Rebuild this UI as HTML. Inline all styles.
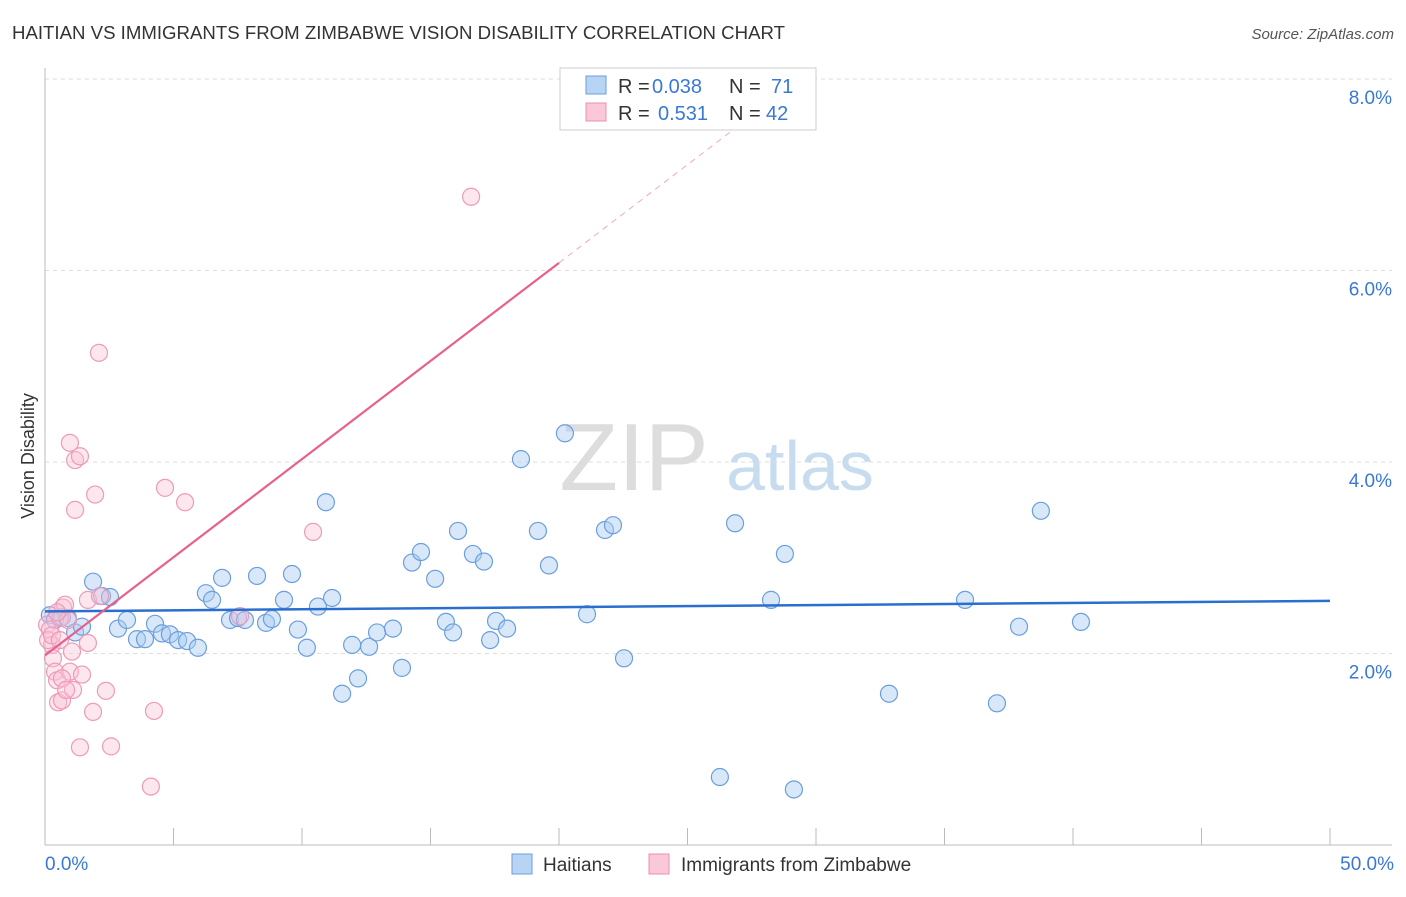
<!DOCTYPE html>
<html><head><meta charset="utf-8"><style>
body{margin:0;background:#fff;font-family:"Liberation Sans",sans-serif;}
svg text{font-family:"Liberation Sans",sans-serif;}
</style></head><body>
<svg id="c" width="1406" height="892" xmlns="http://www.w3.org/2000/svg">
<text x="12" y="39" font-size="18" fill="#333" textLength="773" lengthAdjust="spacingAndGlyphs">HAITIAN VS IMMIGRANTS FROM ZIMBABWE VISION DISABILITY CORRELATION CHART</text>
<text x="1394" y="39" font-size="15" fill="#555" font-style="italic" text-anchor="end">Source: ZipAtlas.com</text>
<text x="634" y="490" font-size="96" fill="#ddd" font-family="Liberation Serif" text-anchor="middle">ZIP</text>
<text x="800" y="490" font-size="70" fill="#c8dcf0" text-anchor="middle">atlas</text>
<text x="34" y="456" font-size="18" fill="#333" text-anchor="middle" transform="rotate(-90 34 456)">Vision Disability</text>
<g id="grid"></g><g id="marks"></g>
<g>
<rect x="560" y="68" width="256" height="62" fill="#fff" stroke="#ccc"/>
<rect x="586" y="76" width="20" height="18" fill="#b8d4f4" stroke="#6a9fde"/>
<rect x="586" y="103" width="20" height="18" fill="#fac8d8" stroke="#e890b0"/>
<text x="618" y="93" font-size="20" fill="#333">R =</text>
<text x="652" y="93" font-size="20" fill="#3a78d6">0.038</text>
<text x="729" y="93" font-size="20" fill="#333">N =</text>
<text x="771" y="93" font-size="20" fill="#3a78d6">71</text>
<text x="618" y="120" font-size="20" fill="#333">R =</text>
<text x="658" y="120" font-size="20" fill="#3a78d6">0.531</text>
<text x="729" y="120" font-size="20" fill="#333">N =</text>
<text x="766" y="120" font-size="20" fill="#3a78d6">42</text>
</g>
<g>
<rect x="512" y="854" width="20" height="20" fill="#b8d4f4" stroke="#6a9fde"/>
<text x="543" y="871" font-size="19" fill="#333">Haitians</text>
<rect x="649" y="854" width="20" height="20" fill="#fac8d8" stroke="#e890b0"/>
<text x="681" y="871" font-size="19" fill="#333">Immigrants from Zimbabwe</text>
</g>
</svg>
<script>
const yTicks=[2,4,6,8];
const xTickLabels=["0.0%","50.0%"];
const blueX=[0.19,0.39,0.66,0.89,1.17,1.44,1.87,2.22,2.53,2.84,3.19,3.58,3.89,4.28,4.55,4.86,5.18,5.53,5.95,6.26,6.50,6.89,7.20,7.51,7.78,8.25,8.60,8.83,9.30,9.61,9.84,10.19,10.62,10.93,11.17,11.56,11.95,12.18,12.61,12.92,13.54,13.89,14.28,14.63,15.18,15.60,15.88,16.07,16.65,17.08,17.32,17.55,17.98,18.52,19.18,19.61,20.23,21.09,21.79,22.10,22.53,26.26,26.85,28.25,28.79,29.14,32.84,35.80,37.04,37.90,38.75,40.31];
const blueY=[2.40,2.35,2.38,2.37,2.22,2.28,2.75,2.60,2.59,2.26,2.35,2.15,2.15,2.31,2.21,2.20,2.14,2.13,2.06,2.63,2.56,2.79,2.35,2.37,2.35,2.81,2.32,2.36,2.56,2.83,2.25,2.06,2.49,3.58,2.58,1.58,2.09,1.74,2.07,2.22,2.26,1.85,2.95,3.06,2.78,2.33,2.22,3.28,3.04,2.96,2.14,2.34,2.26,4.03,3.28,2.92,4.30,2.41,3.29,3.34,1.95,0.71,3.36,2.56,3.04,0.58,1.58,2.56,1.48,2.28,3.49,2.33];
const pinkX=[0.08,0.19,0.27,0.31,0.39,0.47,0.51,0.58,0.66,0.70,0.78,0.89,0.97,0.97,1.05,1.09,1.17,1.17,1.36,1.44,1.67,1.67,1.95,2.10,2.14,2.37,1.36,2.57,1.87,4.24,4.12,4.67,5.45,7.59,10.43,16.58,0.12,0.27,0.47,0.66,0.82,0.58];
const pinkY=[2.30,2.25,2.09,1.95,1.81,1.72,1.49,2.37,1.51,2.48,2.51,2.35,4.20,1.81,2.02,1.62,4.02,3.50,4.06,1.78,2.56,2.11,3.66,5.14,2.60,1.61,1.02,1.03,1.39,1.40,0.61,3.73,3.58,2.39,3.27,6.77,2.14,2.19,2.43,1.74,1.62,2.14];
const blueTrend=[2.44,2.55];
const pinkTrend=[1.98,0.205];
const NS="http://www.w3.org/2000/svg";
const X=v=>45+v*25.7, Y=v=>845-v*95.75;
function mk(t,a,p){const e=document.createElementNS(NS,t);for(const k in a)e.setAttribute(k,a[k]);p.appendChild(e);return e;}
const g=document.getElementById('grid'),m=document.getElementById('marks');
yTicks.forEach(t=>{const l=mk('line',{x1:45,x2:1392,y1:Y(t),y2:Y(t),stroke:'#ddd','stroke-dasharray':'4,4'},g);


const tx=mk('text',{x:1392,y:Y(t)+25,'font-size':19,fill:'#3a78d6','text-anchor':'end'},g);tx.textContent=t.toFixed(1)+'%';

});
mk('line',{x1:45,x2:1392,y1:845,y2:845,stroke:'#bbb'},g);
mk('line',{x1:45,x2:45,y1:68,y2:845,stroke:'#bbb'},g);
for(let i=1;i<=10;i++){const t=mk('line',{x1:X(i*5),x2:X(i*5),y1:828,y2:845,stroke:'#bbb'},g);

}
[[0,'start',45],[50,'end',1394]].forEach((d,i)=>{const t=mk('text',{x:d[2],y:870,'font-size':19,fill:'#3a78d6','text-anchor':d[1]},g);t.textContent=xTickLabels[i];

});
blueX.forEach((x,i)=>{const c=mk('circle',{cx:X(x),cy:Y(blueY[i]),r:8.5,fill:'rgba(170,204,242,0.45)',stroke:'#6a9fde','stroke-width':1.2},m);

});
pinkX.forEach((x,i)=>{const c=mk('circle',{cx:X(x),cy:Y(pinkY[i]),r:8.5,fill:'rgba(250,196,214,0.4)',stroke:'#ee9ab8','stroke-width':1.2},m);

});
const bl=mk('line',{x1:X(0),y1:Y(blueTrend[0]),x2:X(50),y2:Y(blueTrend[1]),stroke:'#2a6fd0','stroke-width':2.5},m);


const pl=mk('line',{x1:X(0),y1:Y(pinkTrend[0]),x2:X(20),y2:Y(pinkTrend[0]+20*pinkTrend[1]),stroke:'#e8608c','stroke-width':2.2},m);


const pd=mk('line',{x1:X(20),y1:Y(pinkTrend[0]+20*pinkTrend[1]),x2:X(27.2),y2:Y(pinkTrend[0]+27.2*pinkTrend[1]),stroke:'#f0a8c0','stroke-width':1,'stroke-dasharray':'6,5'},m);


</script>
</body></html>
